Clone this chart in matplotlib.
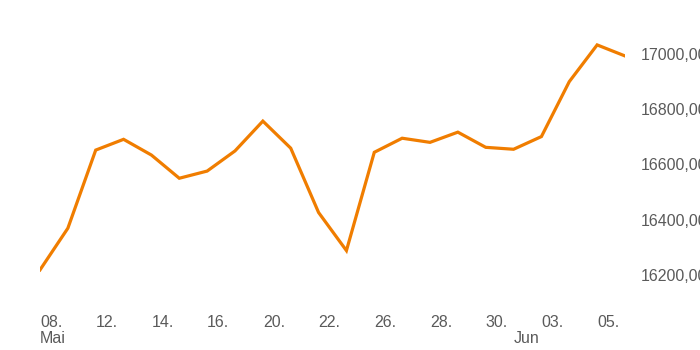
import matplotlib
matplotlib.use("Agg")
import matplotlib.pyplot as plt
from matplotlib.ticker import FixedLocator, FuncFormatter

# Daily closing values (trading days)
values = [16218, 16369, 16652, 16691, 16634, 16550, 16576, 16649, 16757, 16659,
          16426, 16288, 16644, 16695, 16680, 16717, 16662, 16655, 16701, 16900,
          17033, 16993]

# Day labels shown under every second trading day
day_tick_pos = [0, 2, 4, 6, 8, 10, 12, 14, 16, 18, 20]
day_tick_labels = ["08.", "12.", "14.", "16.", "20.", "22.", "26.", "28.", "30.", "03.", "05."]

# Month labels at the first trading day of each month
month_tick_pos = [0, 17]
month_tick_labels = ["Mai", "Jun"]

y_ticks = [16200, 16400, 16600, 16800, 17000]

plt.rcParams['font.family'] = ['Liberation Sans', 'DejaVu Sans']

W, H = 700, 350
fig = plt.figure(figsize=(7, 3.5), dpi=100)
left_px, right_px, top_px, bottom_px = 40, 625, 30, 300
ax = fig.add_axes([left_px / W, 1 - bottom_px / H,
                   (right_px - left_px) / W, (bottom_px - top_px) / H])

x = list(range(len(values)))
ax.plot(x, values, color='#F07D00', linewidth=2.3, solid_joinstyle='miter')

ax.set_xlim(0, len(values) - 1)
ax.set_ylim(16109, 17087)

for s in ax.spines.values():
    s.set_visible(False)

text_color = '#5a5a5a'
fs = 11.5

ax.yaxis.tick_right()
ax.set_yticks(y_ticks)
ax.yaxis.set_major_formatter(FuncFormatter(lambda v, p: f"{v:.2f}".replace('.', ',')))
ax.tick_params(axis='y', length=0, pad=11.5, labelsize=fs, labelcolor=text_color)
for lbl in ax.get_yticklabels():
    lbl.set_horizontalalignment('left')

ax.xaxis.remove_overlapping_locs = False
ax.xaxis.set_major_locator(FixedLocator(day_tick_pos))
ax.set_xticklabels(day_tick_labels)
ax.xaxis.set_minor_locator(FixedLocator(month_tick_pos))
ax.xaxis.set_minor_formatter(FuncFormatter(
    lambda v, p: month_tick_labels[month_tick_pos.index(int(round(v)))]))
ax.tick_params(axis='x', which='major', length=0, pad=10.5, labelsize=fs, labelcolor=text_color)
ax.tick_params(axis='x', which='minor', length=0, pad=22.5, labelsize=fs, labelcolor=text_color)
for lbl in ax.get_xticklabels(which='both'):
    lbl.set_horizontalalignment('left')

fig.savefig('out.png', dpi=100, facecolor='white')
